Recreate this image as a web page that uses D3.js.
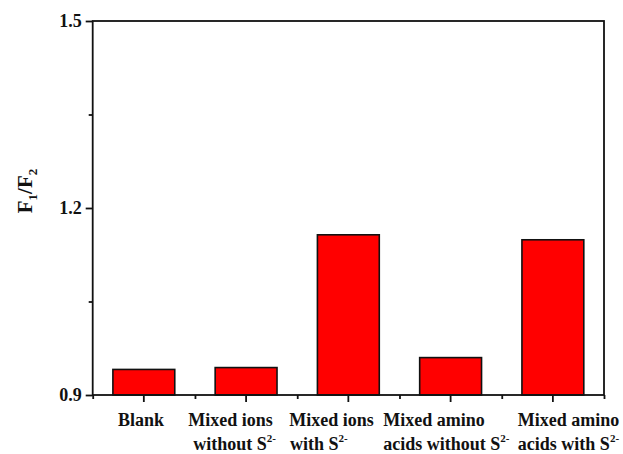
<!DOCTYPE html>
<html>
<head>
<meta charset="utf-8">
<script src="https://cdn.jsdelivr.net/npm/d3@7"></script>
<style>
  body { margin: 0; background: #fff; }
  text { font-family: "Liberation Serif", "Times New Roman", serif; font-weight: bold; fill: #111; }
</style>
</head>
<body>
<svg id="chart" width="623" height="454"></svg>
<script>
// Sample groups along the x axis
const categories = ["Blank", "Mixed ions without S2-", "Mixed ions with S2-", "Mixed amino acids without S2-", "Mixed amino acids with S2-"];
// Two-line axis captions; "^" marks the superscript part
const categoryLines = [
  ["Blank"],
  ["Mixed ions", "without S^2-"],
  ["Mixed ions", "with S^2-"],
  ["Mixed amino", "acids without S^2-"],
  ["Mixed amino", "acids with S^2-"]
];
// Fluorescence ratio F1/F2 for each group
const ratios = [0.941, 0.944, 1.157, 0.960, 1.149];
// Y axis ticks
const yMajorTicks = [0.9, 1.2, 1.5];
const yMinorTicks = [1.05, 1.35];
const yTickLabels = ["0.9", "1.2", "1.5"];

// Caption left edges relative to the category centre, one per line
const captionDx = [[-25.8], [-57.8, -52.8], [-59.1, -58.4], [-67.4, -67.4], [-35, -35]];

const plot = { left: 92.7, right: 604, top: 21, bottom: 395 };
const svg = d3.select("#chart");

const x = d3.scaleBand().domain(categories).range([plot.left, plot.right]).paddingInner(0).paddingOuter(0);
const y = d3.scaleLinear().domain([0.9, 1.5]).range([plot.bottom, plot.top]);
const barW = x.bandwidth() * 0.605;

// Bars
svg.append("g").selectAll("rect").data(categories).join("rect")
  .attr("x", (d) => x(d) + (x.bandwidth() - barW) / 2)
  .attr("y", (d, i) => y(ratios[i]))
  .attr("width", barW)
  .attr("height", (d, i) => y(0.9) - y(ratios[i]))
  .attr("fill", "#ff0000")
  .attr("stroke", "#111")
  .attr("stroke-width", 1.6);

// Left axis: major ticks with labels, minor ticks without
const yAxis = svg.append("g").attr("transform", `translate(${plot.left},0)`)
  .call(d3.axisLeft(y).tickValues(yMajorTicks).tickSize(7).tickPadding(4)
    .tickFormat((d, i) => yTickLabels[i]));
const yMinor = svg.append("g").attr("transform", `translate(${plot.left},0)`)
  .call(d3.axisLeft(y).tickValues(yMinorTicks).tickSize(4).tickFormat(""));

// Bottom axis: major ticks at category centres, minor ticks at band edges
const xAxis = svg.append("g").attr("transform", `translate(0,${plot.bottom})`)
  .call(d3.axisBottom(x).tickSize(7).tickFormat(""));
const edges = categories.map((d) => x(d)).concat([plot.right]);
const xMinor = svg.append("g").attr("transform", `translate(0,${plot.bottom})`)
  .call(d3.axisBottom(d3.scaleIdentity().domain([0, 623])).tickValues(edges).tickSize(4).tickFormat(""));

[yAxis, yMinor, xAxis, xMinor].forEach((g) => {
  g.select(".domain").remove();
  g.selectAll(".tick line").attr("stroke", "#111").attr("stroke-width", 1.8);
});
yAxis.attr("font-family", null).attr("font-size", null);
yAxis.selectAll(".tick text").style("font-size", "18px").attr("fill", "#111");

// Frame around the plot area
svg.append("rect")
  .attr("x", plot.left).attr("y", plot.top)
  .attr("width", plot.right - plot.left).attr("height", plot.bottom - plot.top)
  .attr("fill", "none").attr("stroke", "#111").attr("stroke-width", 1.8);

// Category captions
const baselines = [426, 450];
const caps = svg.append("g");
categoryLines.forEach((lines, i) => {
  const cx = x(categories[i]) + x.bandwidth() / 2;
  lines.forEach((line, j) => {
    const t = caps.append("text")
      .attr("x", cx + captionDx[i][j])
      .attr("y", baselines[j])
      .style("font-size", "18px");
    const parts = line.split("^");
    t.append("tspan").text(parts[0]);
    if (parts[1]) {
      t.append("tspan").attr("dy", -8).style("font-size", "11px").text(parts[1]);
    }
  });
});

// Y axis title F1/F2
const title = svg.append("text")
  .attr("transform", "translate(32,191) rotate(-90)")
  .attr("text-anchor", "middle")
  .style("font-size", "21px");
title.append("tspan").text("F");
title.append("tspan").attr("dy", 5).style("font-size", "13px").text("1");
title.append("tspan").attr("dy", -5).text("/F");
title.append("tspan").attr("dy", 5).style("font-size", "13px").text("2");
</script>
</body>
</html>
